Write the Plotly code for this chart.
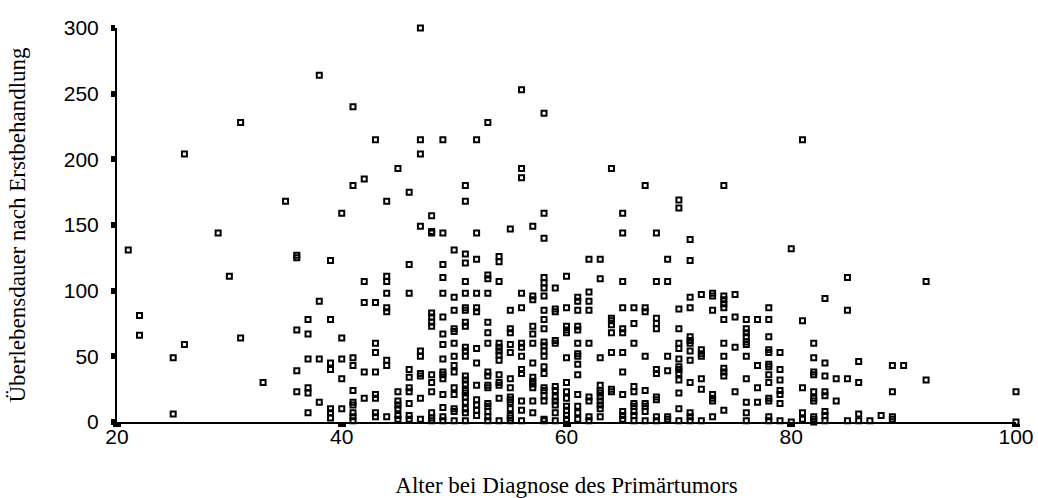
import plotly.graph_objects as go

# Age at diagnosis (years) and the survival values (months) recorded at that age
ages = [21, 22, 25, 26, 29, 30, 31, 33, 35, 36, 37, 38, 39, 40, 41, 42, 43, 44, 45, 46,
        47, 48, 49, 50, 51, 52, 53, 54, 55, 56, 57, 58, 59, 60, 61, 62, 63, 64, 65, 66,
        67, 68, 69, 70, 71, 72, 73, 74, 75, 76, 77, 78, 79, 80, 81, 82, 83, 84, 85, 86,
        87, 88, 89, 90, 92, 100]
survival_by_age = [
    [131], [81, 66], [49, 6], [59, 204], [144], [111], [64, 228], [30], [168],
    [127, 125, 70, 39, 23],
    [78, 67, 48, 26, 22, 7],
    [264, 92, 48, 15],
    [123, 78, 45, 40, 10, 7, 3],
    [159, 64, 48, 33, 10],
    [240, 180, 49, 43, 24, 15, 13, 7, 4, 1],
    [185, 107, 91, 38, 18],
    [215, 91, 60, 53, 38, 21, 18, 7, 4],
    [168, 111, 107, 98, 87, 84, 47, 43, 4],
    [193, 23, 16, 13, 10, 5, 2],
    [175, 120, 98, 40, 34, 26, 23, 14, 5, 2],
    [300, 215, 204, 149, 54, 50, 37, 35, 18, 2],
    [157, 145, 144, 83, 80, 76, 73, 36, 30, 23, 7, 3, 1],
    [215, 144, 120, 110, 98, 80, 67, 59, 48, 38, 36, 33, 21, 11, 4, 1],
    [131, 95, 85, 71, 69, 60, 50, 43, 38, 26, 21, 10, 8, 1],
    [180, 168, 128, 121, 107, 98, 87, 85, 76, 73, 57, 54, 50, 35, 32, 29, 24, 22, 19, 15, 10, 7, 1],
    [215, 144, 124, 98, 87, 84, 56, 45, 28, 17, 13, 9, 5],
    [228, 112, 109, 98, 76, 68, 60, 38, 35, 28, 26, 14, 12, 8, 4, 1],
    [126, 122, 107, 60, 57, 54, 51, 47, 36, 30, 28, 18, 1],
    [147, 85, 71, 68, 59, 53, 33, 26, 19, 17, 15, 10, 5, 3, 1],
    [253, 193, 186, 98, 87, 60, 57, 50, 40, 37, 16, 9, 1],
    [149, 96, 93, 73, 67, 60, 45, 34, 31, 29, 26, 16, 7],
    [235, 159, 140, 110, 106, 102, 96, 85, 78, 71, 61, 58, 54, 50, 42, 37, 26, 24, 20, 16, 2, 1],
    [102, 86, 84, 62, 60, 27, 24, 19, 16, 13, 7, 1],
    [111, 87, 73, 70, 68, 49, 30, 23, 18, 12, 9, 5, 2],
    [95, 92, 85, 73, 70, 60, 52, 50, 44, 36, 21, 12, 7, 2],
    [124, 99, 92, 85, 60, 19, 16, 4, 1],
    [124, 109, 49, 28, 24, 22, 19, 16, 13, 10, 4],
    [193, 79, 77, 74, 68, 53, 25, 23],
    [159, 144, 107, 87, 71, 68, 53, 38, 21, 8, 5, 2],
    [87, 75, 60, 27, 23, 14, 12, 8, 5, 1],
    [180, 87, 84, 50, 24, 14, 12, 8, 1],
    [144, 107, 79, 75, 71, 40, 37, 19, 17, 4, 1],
    [124, 107, 50, 39, 4, 2],
    [169, 163, 86, 71, 60, 56, 48, 42, 40, 37, 32, 22, 10, 1],
    [139, 123, 95, 87, 65, 62, 60, 54, 47, 30, 7, 4, 1],
    [97, 55, 52, 50, 33, 25, 1],
    [98, 96, 85, 21, 18, 16, 4],
    [180, 96, 93, 90, 87, 78, 60, 50, 41, 38, 35, 9],
    [97, 80, 57, 23],
    [78, 71, 68, 65, 61, 59, 50, 33, 15, 7, 1],
    [78, 43, 26, 15],
    [87, 78, 65, 55, 53, 44, 42, 36, 30, 18, 16, 4, 1],
    [53, 40, 32, 24, 21, 14, 1],
    [132, 0],
    [215, 77, 26, 7, 2],
    [60, 49, 38, 36, 23, 18, 16, 4, 2, 0],
    [94, 45, 35, 23, 20, 8, 5, 1],
    [33, 16],
    [110, 85, 33, 1],
    [46, 30, 6, 1],
    [1], [5], [43, 23, 4, 2], [43], [107, 32], [23, 0],
]

x_ticks = [20, 40, 60, 80, 100]
y_ticks = [0, 50, 100, 150, 200, 250, 300]

x_vals, y_vals = [], []
for a, vals in zip(ages, survival_by_age):
    for v in vals:
        x_vals.append(a)
        y_vals.append(v)

fig = go.Figure(go.Scatter(
    x=x_vals, y=y_vals, mode="markers", cliponaxis=False,
    marker=dict(symbol="square-open", size=5, color="black", line=dict(width=2, color="black")),
    showlegend=False,
))

tick_font = dict(family="Liberation Sans, Arial", size=21, color="black")
title_font = dict(family="Liberation Serif, Times New Roman", size=23, color="black")

fig.update_layout(
    width=1038, height=498,
    margin=dict(l=117, r=22, t=28, b=76),
    paper_bgcolor="white", plot_bgcolor="white",
    xaxis=dict(
        range=[20, 100], tickvals=x_ticks, ticktext=[str(t) for t in x_ticks],
        showgrid=False, zeroline=False, showline=True, linecolor="black", linewidth=2,
        ticks="outside", ticklen=3, tickwidth=8, tickcolor="black",
        tickfont=tick_font, ticklabelstandoff=-8,
        title=dict(text="Alter bei Diagnose des Primärtumors", font=title_font, standoff=32),
        automargin=False,
    ),
    yaxis=dict(
        range=[0, 300], tickvals=y_ticks, ticktext=[str(t) for t in y_ticks],
        showgrid=False, zeroline=False, showline=True, linecolor="black", linewidth=2,
        ticks="outside", ticklen=4, tickwidth=6, tickcolor="black",
        tickfont=tick_font, ticklabelstandoff=8,
        title=dict(text="Überlebensdauer nach Erstbehandlung", font=title_font, standoff=32),
        automargin=False,
    ),
)

fig.write_html("out.html")
